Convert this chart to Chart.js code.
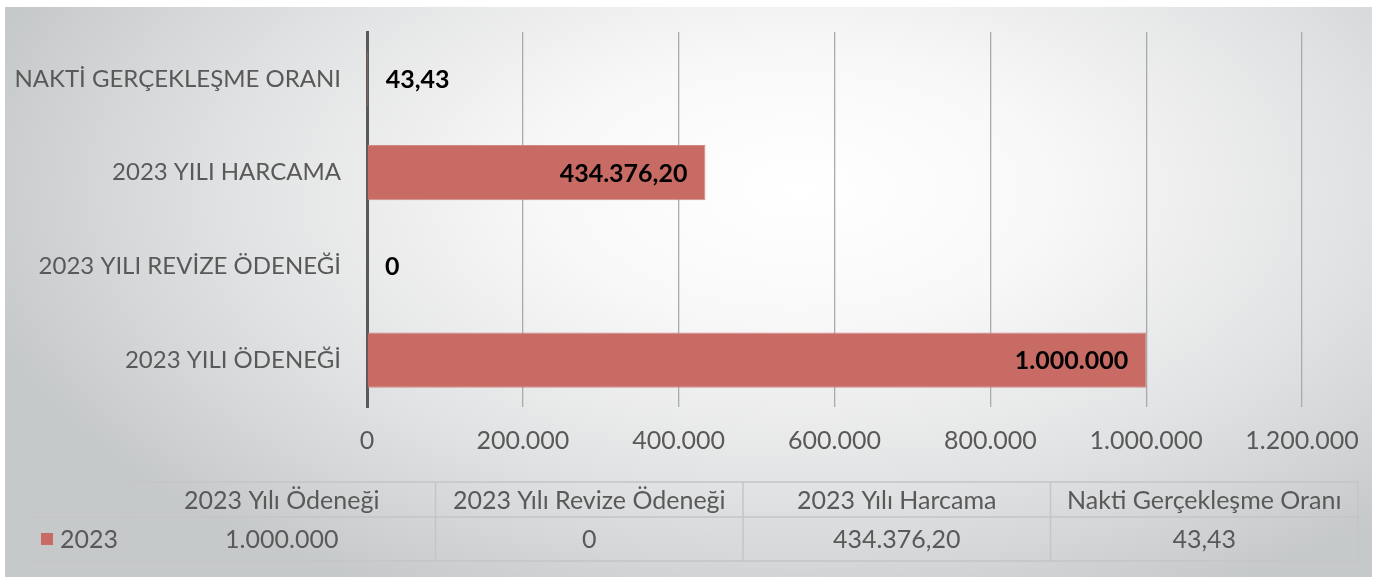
<!DOCTYPE html>
<html>
<head>
<meta charset="utf-8">
<script src="https://cdn.jsdelivr.net/npm/chart.js@4.4.1/dist/chart.umd.min.js"></script>
<style>
  html, body { margin: 0; padding: 0; background: #fff; }
  #wrap {
    position: absolute; left: 5px; top: 7px; width: 1367px; height: 570px;
    background: radial-gradient(ellipse 62% 80% at 58% 32%, #ffffff 0%, #f8f8f8 30%, #e2e3e4 65%, #c6c9ca 100%);
  }
</style>
</head>
<body>
<div id="wrap"><canvas id="myChart" width="1367" height="570"></canvas></div>
<script>
// data, in table order (first = bottom bar)
const categories = ['2023 Yılı Ödeneği', '2023 Yılı Revize Ödeneği', '2023 Yılı Harcama', 'Nakti Gerçekleşme Oranı'];
const axisLabels = ['2023 YILI ÖDENEĞİ', '2023 YILI REVİZE ÖDENEĞİ', '2023 YILI HARCAMA', 'NAKTİ GERÇEKLEŞME ORANI'];
const seriesName = '2023';
const values2023 = [1000000, 0, 434376.20, 43.43];
const xMin = 0, xMax = 1200000, xStep = 200000;

const barColor = '#c76b64';
const textGray = '#595959';
const fontFamily = 'Lato, "Open Sans", sans-serif';

function fmt(v) {
    const whole = Math.floor(v);
    const dec = Math.round((v - whole) * 100);
    let s = String(whole).replace(/\B(?=(\d{3})+(?!\d))/g, '.');
    if (dec) s += ',' + String(dec).padStart(2, '0');
    return s;
}

// value labels on bars
const valueLabels = {
    id: 'valueLabels',
    afterDatasetsDraw(chart) {
        const ctx = chart.ctx;
        const meta = chart.getDatasetMeta(0);
        ctx.save();
        ctx.font = 'bold 25px ' + fontFamily;
        ctx.fillStyle = '#000';
        ctx.textBaseline = 'middle';
        meta.data.forEach((bar, i) => {
            const txt = fmt(values2023[i]);
            const w = ctx.measureText(txt).width;
            if (bar.x - bar.base > w + 30) {
                ctx.textAlign = 'right';
                ctx.fillText(txt, bar.x - 18, bar.y + 1);
            } else {
                ctx.textAlign = 'left';
                ctx.fillText(txt, bar.base + 18, bar.y + 1);
            }
        });
        ctx.restore();
    }
};

// data table under the chart
const dataTable = {
    id: 'dataTable',
    afterDraw(chart) {
        const ctx = chart.ctx;
        const legL = 27, left = 123, right = 1353;
        const top = 475, mid = 510, bottom = 554;
        const colW = (right - left) / categories.length;
        ctx.save();
        ctx.strokeStyle = '#c4c5c6';
        ctx.lineWidth = 1.5;
        ctx.beginPath();
        ctx.moveTo(left, top); ctx.lineTo(right, top);
        ctx.moveTo(legL, mid); ctx.lineTo(right, mid);
        ctx.moveTo(legL, bottom); ctx.lineTo(right, bottom);
        ctx.moveTo(legL, mid); ctx.lineTo(legL, bottom);
        for (let i = 0; i <= categories.length; i++) {
            ctx.moveTo(left + i * colW, top);
            ctx.lineTo(left + i * colW, bottom);
        }
        ctx.stroke();

        ctx.font = '25px ' + fontFamily;
        ctx.fillStyle = textGray;
        ctx.textAlign = 'center';
        ctx.textBaseline = 'middle';
        categories.forEach((c, i) => {
            ctx.fillText(c, left + (i + 0.5) * colW, (top + mid) / 2 + 1);
            ctx.fillText(fmt(values2023[i]), left + (i + 0.5) * colW, (mid + bottom) / 2 + 1);
        });
        // legend key
        ctx.fillStyle = barColor;
        ctx.fillRect(36, 526, 12, 12);
        ctx.fillStyle = textGray;
        ctx.textAlign = 'left';
        ctx.fillText(seriesName, 55, (mid + bottom) / 2 + 1);
        ctx.restore();
    }
};

const ctx = document.getElementById('myChart').getContext('2d');
const myChart = new Chart(ctx, {
    type: 'bar',
    data: {
        labels: axisLabels,
        datasets: [{
            label: seriesName,
            data: values2023,
            backgroundColor: barColor,
            borderColor: '#d08a84',
            borderWidth: 1,
            barPercentage: 0.98,
            categoryPercentage: 0.6
        }]
    },
    options: {
        indexAxis: 'y',
        responsive: false,
        animation: false,
        layout: { padding: { top: 25, right: 70, bottom: 110, left: 0 } },
        plugins: {
            legend: { display: false },
            tooltip: { enabled: false }
        },
        scales: {
            x: {
                min: xMin,
                max: xMax,
                ticks: {
                    stepSize: xStep,
                    padding: 19,
                    color: textGray,
                    font: { family: fontFamily, size: 25 },
                    callback: (v) => fmt(v)
                },
                grid: { color: '#a9aaab', lineWidth: 1.3, drawTicks: false },
                border: { display: false },
                afterFit: (s) => { s.height = 60; s.paddingLeft = 0; s.paddingRight = 0; }
            },
            y: {
                reverse: true,
                ticks: {
                    padding: 26,
                    color: textGray,
                    font: { family: fontFamily, size: 24 }
                },
                grid: { display: false, drawTicks: false },
                border: { display: true, color: '#595959', width: 3 },
                afterFit: (s) => { s.width = 362; s.paddingTop = 0; s.paddingBottom = 0; }
            }
        }
    },
    plugins: [valueLabels, dataTable]
});
</script>
</body>
</html>
